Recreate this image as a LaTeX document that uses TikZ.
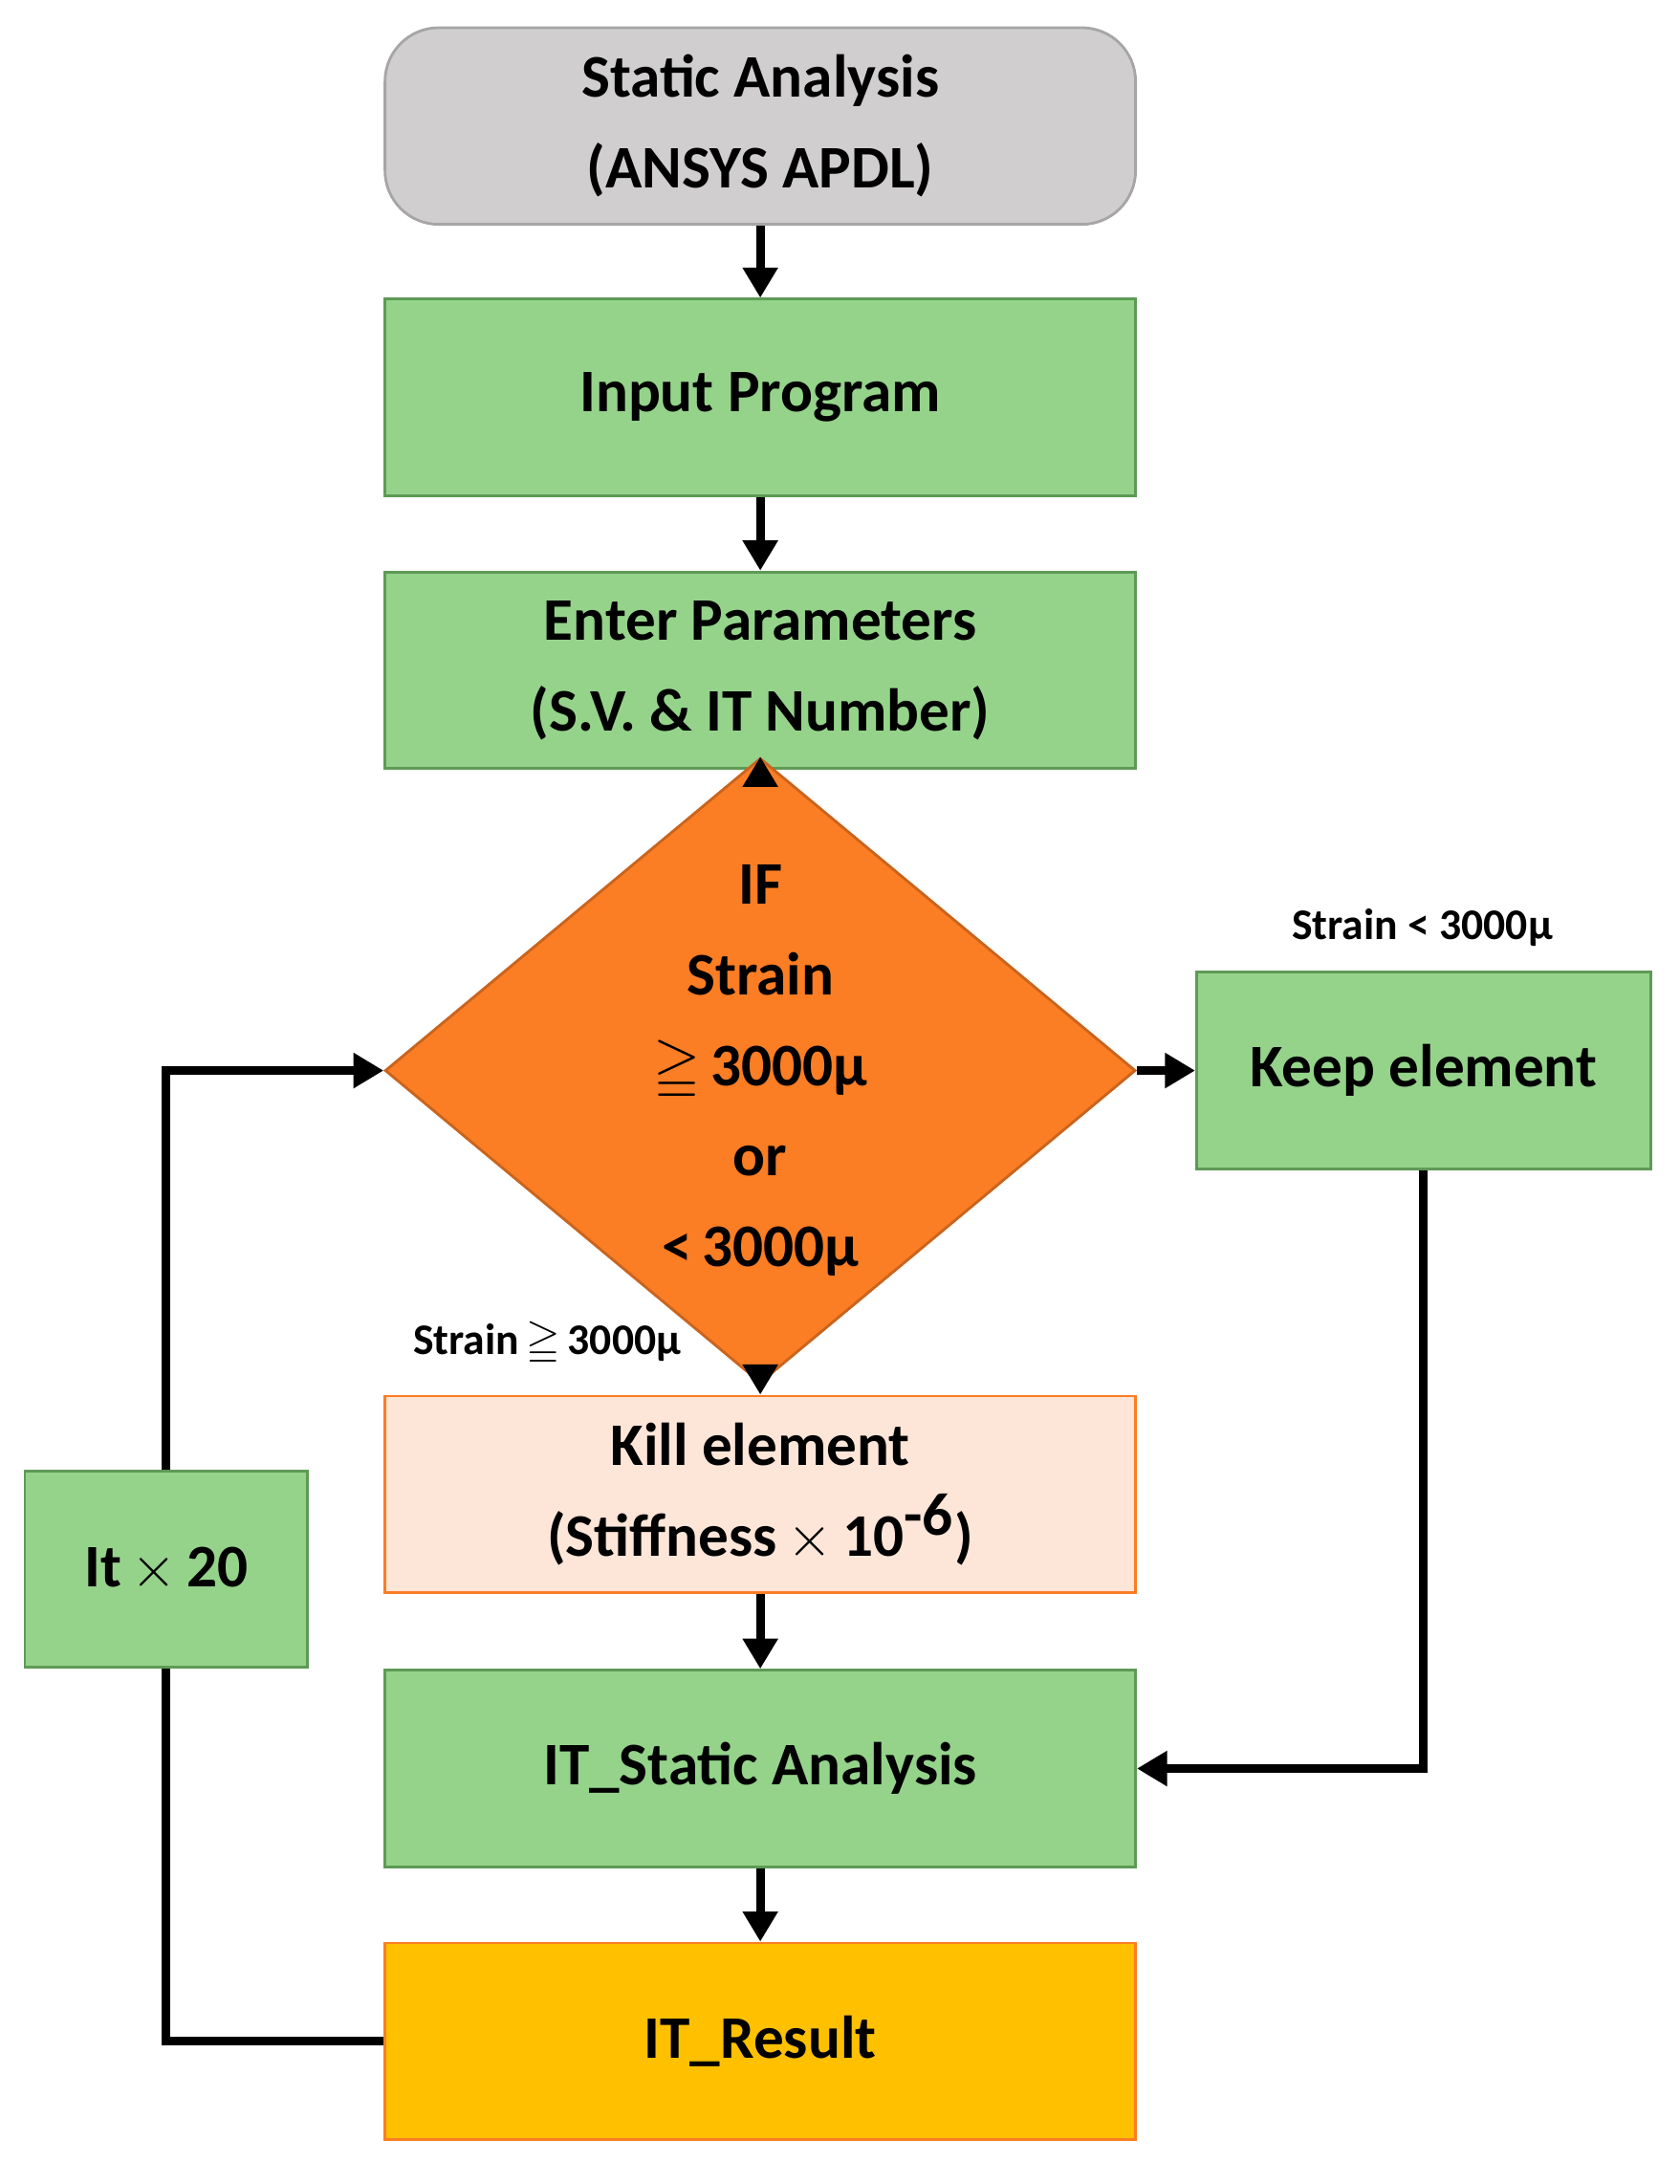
\documentclass[tikz,border=0pt]{standalone}
\usepackage{amssymb}
\usepackage{fontspec}
\setmainfont{Carlito}
\usetikzlibrary{arrows.meta,shapes.geometric}
\definecolor{gfill}{HTML}{95D38B}
\definecolor{gline}{HTML}{5E9A55}
\definecolor{orng}{HTML}{FB7D24}
\definecolor{pch}{HTML}{FDE5D8}
\definecolor{gold}{HTML}{FFC000}
\begin{document}
\begin{tikzpicture}[x=0.01449cm,y=-0.01449cm,
 box/.style={draw=gline,fill=gfill,line width=0.8pt,minimum width=542*0.01449cm,minimum height=142*0.01449cm,inner sep=0pt,align=center,font=\fontsize{18}{27}\selectfont\bfseries},
 arr/.style={line width=2.6pt,-{Triangle[length=9pt,width=10pt]}},
 lbl/.style={font=\fontsize{13}{15}\selectfont\bfseries}]
\useasboundingbox (0,0) rectangle (1213,1577);
\node[box,draw=gray!70,fill={rgb,255:red,208;green,206;blue,206},rounded corners=16pt] (sa) at (549,91) {Static Analysis\\(ANSYS APDL)};
\node[box] (ip) at (549,287) {Input Program};
\node[box] (ep) at (549,484) {Enter Parameters\\(S.V. \& IT Number)};
\node[diamond,draw=orng!80!black,fill=orng,line width=0.8pt,minimum width=542*0.01449cm,minimum height=327*0.01449cm,inner sep=0pt,align=center,font=\fontsize{18}{27}\selectfont\bfseries] (d) at (549,773) {IF\\Strain\\$\geqq$\,3000µ\\or\\<\,3000µ};
\node[box,minimum width=328*0.01449cm] (ke) at (1028,773) {Keep element};
\node[box,draw=orng,fill=pch] (kill) at (549,1079) {Kill element\\(Stiffness\,$\times$\,10$^{\textbf{-6}}$)};
\node[box] (its) at (549,1277) {IT\_Static Analysis};
\node[box,draw=orng,fill=gold] (itr) at (549,1474) {IT\_Result};
\node[box,minimum width=204*0.01449cm] (it) at (120,1133) {It\,$\times$\,20};
\node[lbl] (l1) at (1027,670) {Strain < 3000µ};
\node[lbl] (l2) at (395,970) {Strain\,$\geqq$\,3000µ};
\coordinate (c1) at (120,1474);
\coordinate (c2) at (120,773);
\coordinate (c3) at (1028,1277);
\draw[arr] (sa) -- (ip);
\draw[arr] (ip) -- (ep);
\draw[arr] (ep) -- (d);
\draw[arr] (d) -- (ke);
\draw[arr] (d) -- (kill);
\draw[arr] (kill) -- (its);
\draw[arr] (its) -- (itr);
\draw[line width=2.6pt] (itr.west) -- (c1) -- (it.south);
\draw[arr] (it.north) -- (c2) -- (d.west);
\draw[arr] (ke.south) -- (c3) -- (its.east);
\end{tikzpicture}
\end{document}
